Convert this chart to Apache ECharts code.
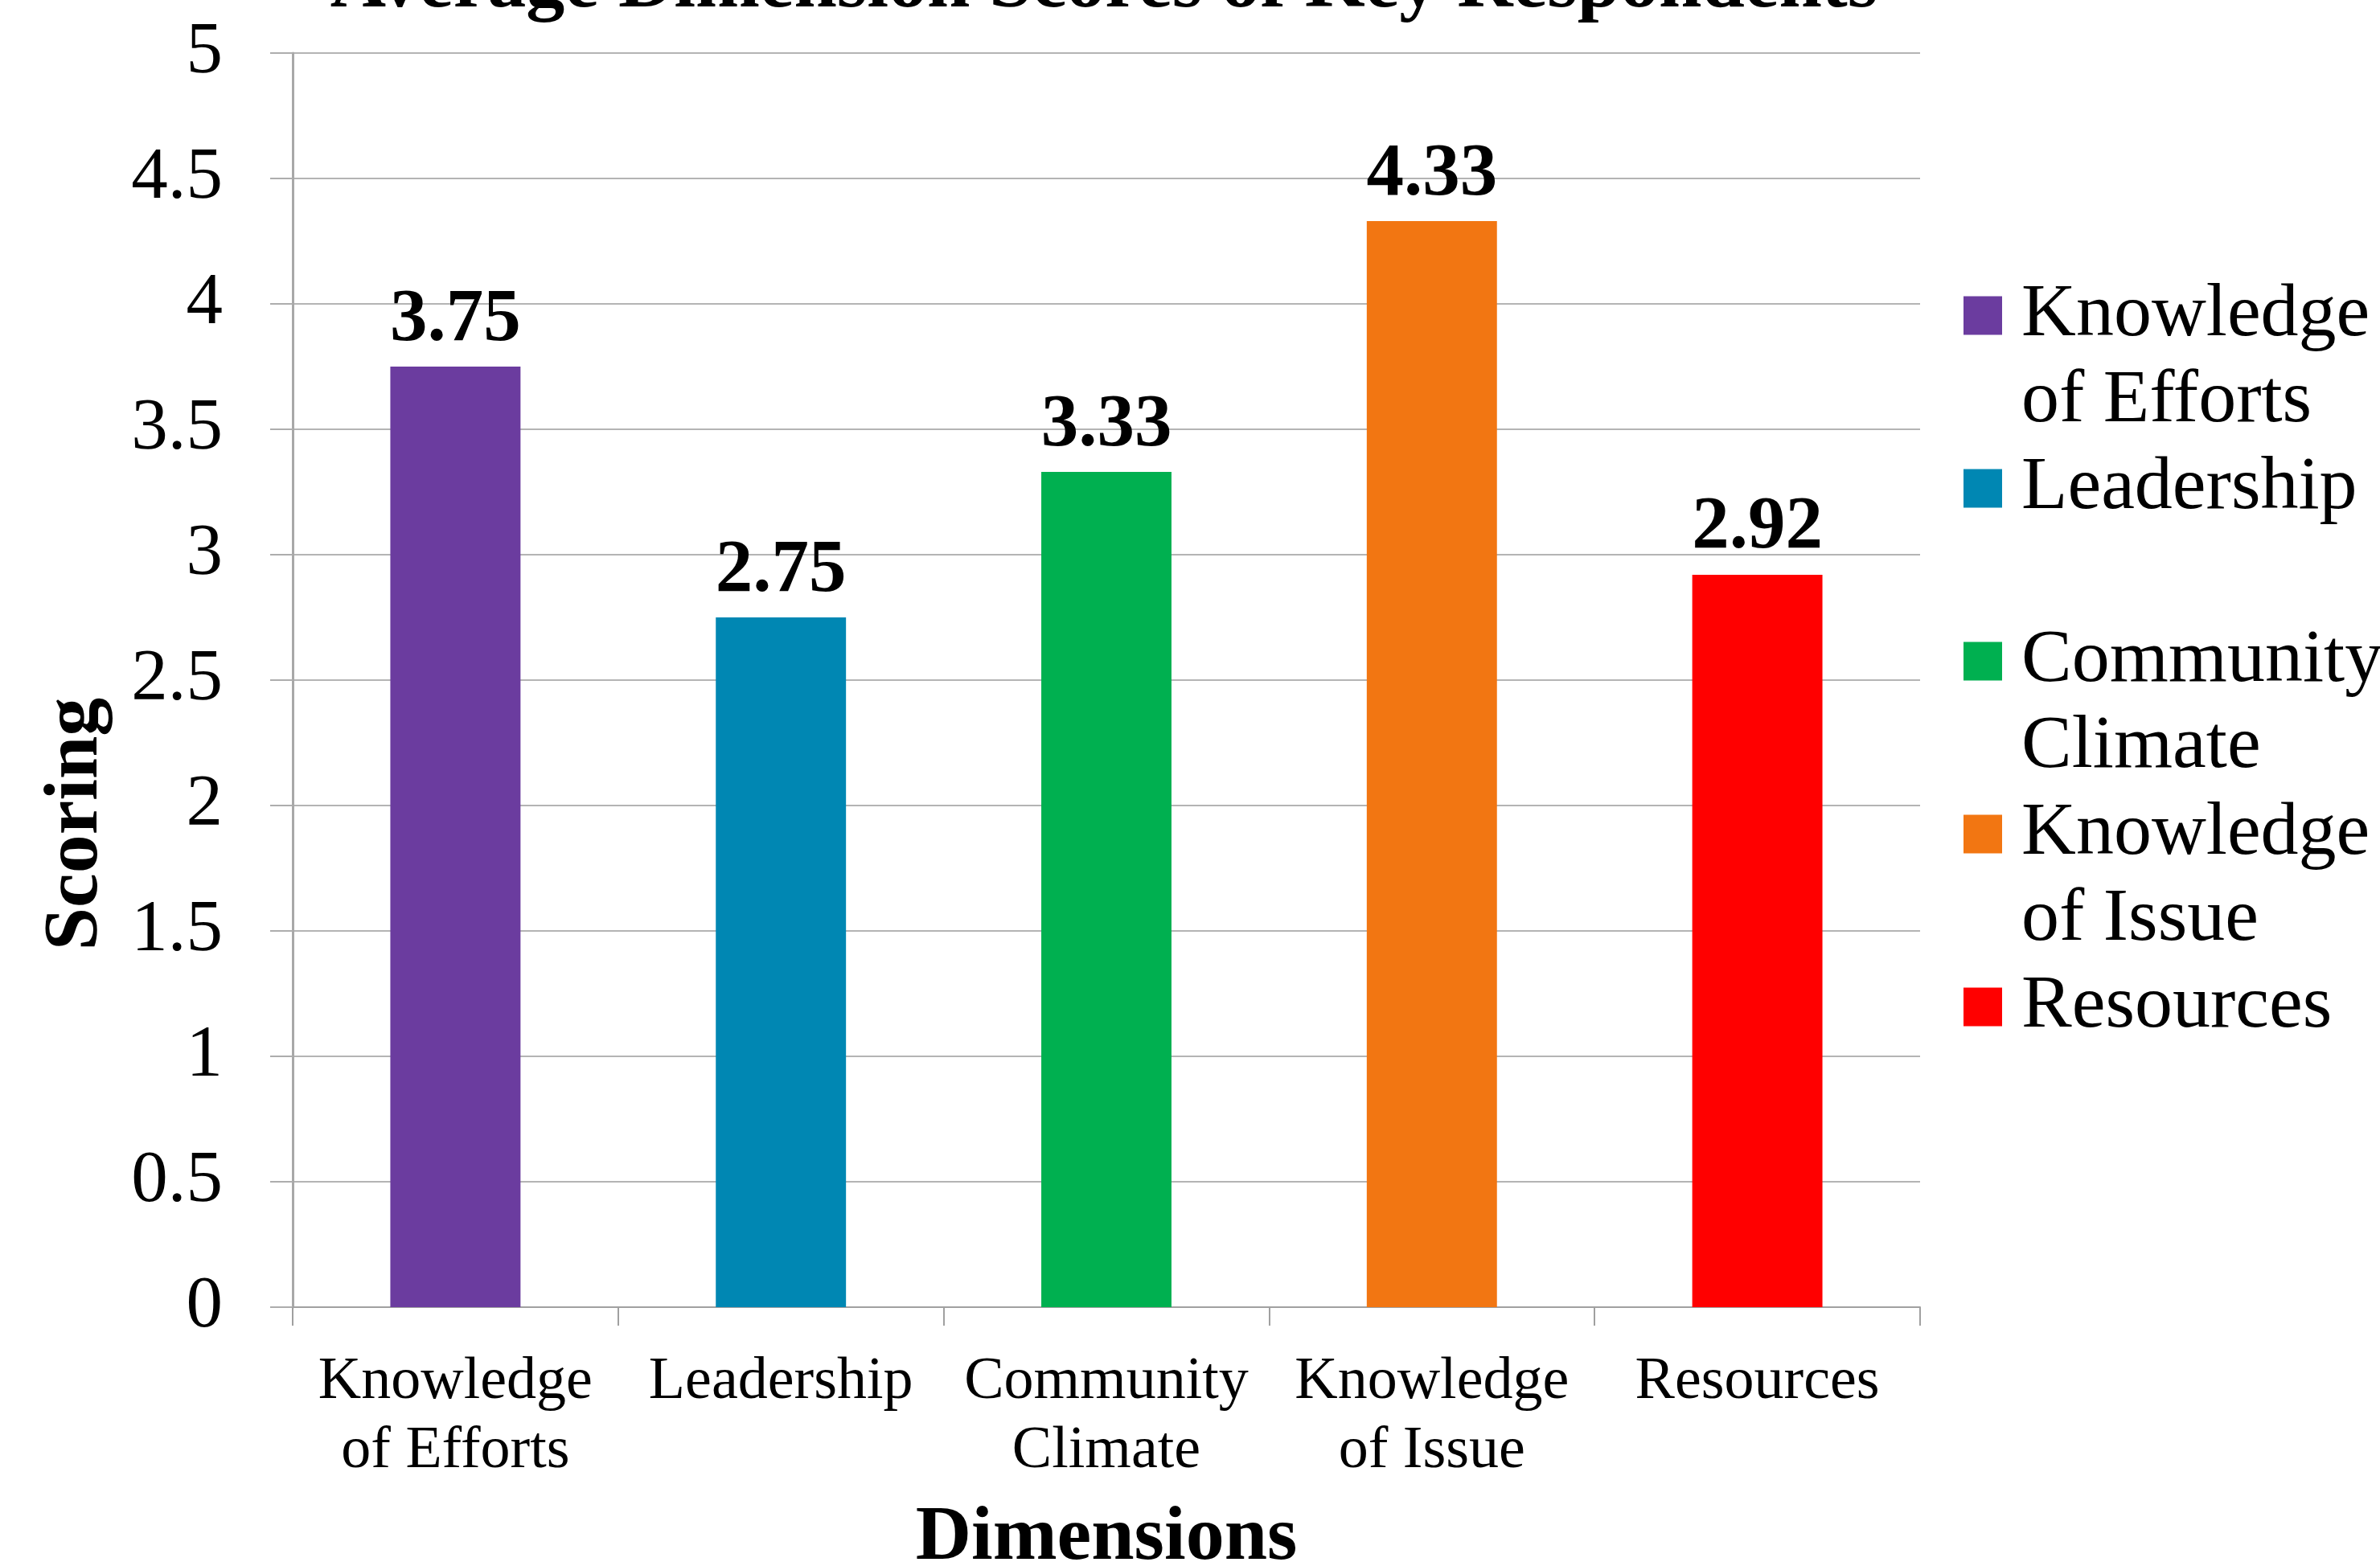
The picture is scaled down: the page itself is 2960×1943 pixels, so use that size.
<!DOCTYPE html>
<html>
<head>
<meta charset="utf-8">
<script src="https://cdn.jsdelivr.net/npm/echarts@6/dist/echarts.min.js"></script>
<style>
html,body{margin:0;padding:0;background:#fff;}
#chart{width:2960px;height:1943px;}
</style>
</head>
<body>
<div id="chart"></div>
<script>
const titleText = 'Average Dimension Scores of Key Respondents';
const categories = ['Knowledge of Efforts', 'Leadership', 'Community Climate', 'Knowledge of Issue', 'Resources'];
const axisLabels = ['Knowledge\nof Efforts', 'Leadership', 'Community\nClimate', 'Knowledge\nof Issue', 'Resources'];
const legendLabels = [' \nKnowledge\nof Efforts', ' \nLeadership\n ', ' \nCommunity\nClimate', ' \nKnowledge\nof Issue', ' \nResources\n '];
const values = [3.75, 2.75, 3.33, 4.33, 2.92];
const colors = ['#6B3C9F', '#0087B3', '#00B050', '#F27612', '#FF0000'];
const yTicks = [0, 0.5, 1, 1.5, 2, 2.5, 3, 3.5, 4, 4.5, 5];

const FONT = "'Liberation Serif', 'Times New Roman', serif";

const series = categories.map((name, i) => ({
  name: name,
  type: 'bar',
  stack: 'all',
  barCategoryGap: '60%',
  itemStyle: { color: colors[i] },
  label: {
    show: true,
    position: 'top',
    distance: 11,
    fontFamily: FONT,
    fontSize: 93,
    fontWeight: 'bold',
    color: '#000',
    formatter: p => values[p.dataIndex].toFixed(2)
  },
  data: categories.map((c, j) => (j === i ? values[i] : '-'))
}));

const chart = echarts.init(document.getElementById('chart'));
chart.setOption({
  backgroundColor: '#fff',
  animation: false,
  title: {
    text: titleText,
    left: 1373,
    textAlign: 'center',
    top: -65,
    padding: 0,
    textStyle: { fontFamily: FONT, fontSize: 96, fontWeight: 'bold', color: '#000' }
  },
  grid: { left: 364, right: 572, top: 66, bottom: 317, containLabel: false, outerBoundsMode: 'none' },
  legend: {
    orient: 'vertical',
    left: 2442,
    top: 232,
    padding: 0,
    itemWidth: 48,
    itemHeight: 48,
    itemGap: -106,
    icon: 'rect',
    formatter: name => legendLabels[categories.indexOf(name)],
    textStyle: {
      fontFamily: FONT,
      fontSize: 94,
      lineHeight: 107,
      color: '#000',
      padding: [0, 0, 0, 19]
    },
    data: categories
  },
  xAxis: {
    type: 'category',
    data: categories,
    boundaryGap: true,
    name: 'Dimensions',
    nameLocation: 'middle',
    nameGap: 240,
    nameTextStyle: { fontFamily: FONT, fontSize: 96, fontWeight: 'bold', color: '#000' },
    axisLine: { show: true, lineStyle: { color: '#A0A0A0', width: 2 } },
    axisTick: { show: true, length: 23, alignWithLabel: false, lineStyle: { color: '#A0A0A0', width: 2 } },
    axisLabel: {
      margin: 51,
      interval: 0,
      fontFamily: FONT,
      fontSize: 74,
      lineHeight: 86,
      color: '#000',
      formatter: (v, i) => axisLabels[i]
    },
    splitLine: { show: false }
  },
  yAxis: {
    type: 'value',
    min: 0,
    max: 5,
    interval: 0.5,
    name: 'Scoring',
    nameLocation: 'middle',
    nameGap: 221,
    nameTextStyle: { fontFamily: FONT, fontSize: 96, fontWeight: 'bold', color: '#000', padding: [0, 358, 0, 0] },
    axisLine: { show: true, lineStyle: { color: '#A8A8A8', width: 3 } },
    axisTick: { show: true, length: 28, lineStyle: { color: '#ADADAD', width: 2 } },
    axisLabel: {
      margin: 87,
      fontFamily: FONT,
      fontSize: 91,
      color: '#000',
      formatter: v => String(yTicks[Math.round(v / 0.5)])
    },
    splitLine: { show: true, lineStyle: { color: '#B4B4B4', width: 2 } }
  },
  series: series
});
</script>
</body>
</html>
